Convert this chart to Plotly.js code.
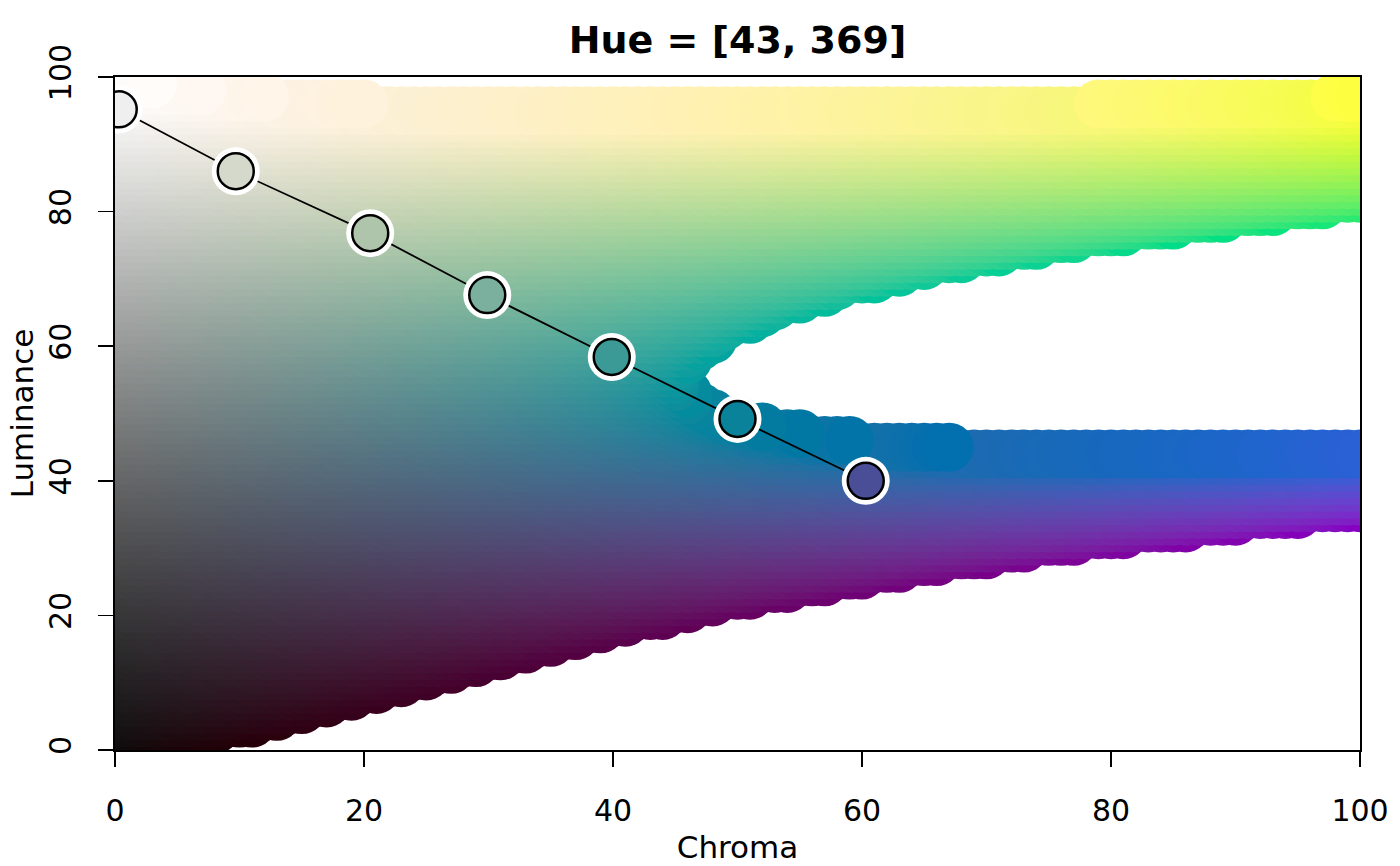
<!DOCTYPE html>
<html>
<head>
<meta charset="utf-8">
<script src="https://cdn.plot.ly/plotly-3.0.1.min.js"></script>
<style>html,body{margin:0;padding:0;background:#fff}#chart{width:1400px;height:866px}</style>
</head>
<body>
<div id="chart"></div>
<script>
// ---- data ----
const chartTitle = 'Hue = [43, 369]';
const xLabel = 'Chroma';
const yLabel = 'Luminance';
const xTicks = [0, 20, 40, 60, 80, 100];
const yTicks = [0, 20, 40, 60, 80, 100];

// background sampling grid of the luminance-chroma plane
const chromaGrid = [0,1,2,3,4,5,6,7,8,9,10,11,12,13,14,15,16,17,18,19,20,21,22,23,24,25,26,27,28,29,30,31,32,33,34,35,36,37,38,39,40,41,42,43,44,45,46,47,48,49,50,51,52,53,54,55,56,57,58,59,60,61,62,63,64,65,66,67,68,69,70,71,72,73,74,75,76,77,78,79,80,81,82,83,84,85,86,87,88,89,90,91,92,93,94,95,96,97,98,99,100];
const luminanceGrid = [0,1,2,3,4,5,6,7,8,9,10,11,12,13,14,15,16,17,18,19,20,21,22,23,24,25,26,27,28,29,30,31,32,33,34,35,36,37,38,39,40,41,42,43,44,45,46,47,48,49,50,51,52,53,54,55,56,57,58,59,60,61,62,63,64,65,66,67,68,69,70,71,72,73,74,75,76,77,78,79,80,81,82,83,84,85,86,87,88,89,90,91,92,93,94,95,96,97,98,99,100];
const hueAtOrigin = 370.5;      // hue at C = 0, L = 0
const huePerLuminance = -3.26;  // change of hue per luminance unit
const huePerChroma = 0.32;      // change of hue per chroma unit

// palette points
const paletteChroma = [0.3, 9.7, 20.5, 29.9, 39.9, 50.0, 60.3];
const paletteLuminance = [95.2, 86.0, 76.8, 67.6, 58.4, 49.2, 40.0];
const paletteColors = ['#EFEFEF', '#D5D9CB', '#AEC5AC', '#7BB09F', '#3B9A96', '#0A8299', '#4A4E96'];

// ---- polarLUV (HCL) -> sRGB hex, null when outside the sRGB gamut ----
function hclToHex(H, C, L) {
  if (L <= 0) return C === 0 ? '#000000' : null;
  const Xn = 95.047, Yn = 100.0, Zn = 108.883;
  const den = Xn + 15 * Yn + 3 * Zn;
  const un = 4 * Xn / den, vn = 9 * Yn / den;
  const h = H * Math.PI / 180;
  const u = C * Math.cos(h), v = C * Math.sin(h);
  const Y = Yn * (L > 7.999592 ? Math.pow((L + 16) / 116, 3) : L / 903.3);
  const up = u / (13 * L) + un;
  const vp = v / (13 * L) + vn;
  const X = 9.0 * Y * up / (4 * vp);
  const Z = -X / 3 - 5 * Y + 3 * Y / vp;
  const x = X / 100, y = Y / 100, z = Z / 100;
  const lin = [
    3.240479 * x - 1.537150 * y - 0.498535 * z,
    -0.969256 * x + 1.875992 * y + 0.041556 * z,
    0.055648 * x - 0.204043 * y + 1.057311 * z
  ];
  const eps = 1e-9;
  let hex = '#';
  for (const c of lin) {
    if (c < -eps || c > 1 + eps) return null;
    const cc = Math.min(1, Math.max(0, c));
    const g = cc > 0.00304 ? 1.055 * Math.pow(cc, 1 / 2.4) - 0.055 : 12.92 * cc;
    hex += Math.round(g * 255).toString(16).padStart(2, '0');
  }
  return hex;
}

const bgC = [], bgL = [], bgCol = [];
for (const L of luminanceGrid) {
  for (const C of chromaGrid) {
    const H = hueAtOrigin + huePerLuminance * L + huePerChroma * C;
    const col = hclToHex(H, C, L);
    if (col) { bgC.push(C); bgL.push(L); bgCol.push(col); }
  }
}

const traces = [
  { type: 'scatter', mode: 'markers', x: bgC, y: bgL, hoverinfo: 'skip',
    marker: { size: 49, color: bgCol, line: { width: 0 } } },
  { type: 'scatter', mode: 'lines', x: paletteChroma, y: paletteLuminance, hoverinfo: 'skip',
    line: { color: 'black', width: 1.8 } },
  { type: 'scatter', mode: 'markers', x: paletteChroma, y: paletteLuminance, hoverinfo: 'skip',
    marker: { size: 48, color: 'white', line: { width: 0 } } },
  { type: 'scatter', mode: 'markers', x: paletteChroma, y: paletteLuminance,
    marker: { size: 36, color: paletteColors, line: { color: 'black', width: 2.5 } } }
];

const axisCommon = {
  range: [0, 100], showgrid: false, zeroline: false,
  showline: true, mirror: true, linecolor: 'black', linewidth: 1.6,
  ticks: 'outside', ticklen: 15, tickwidth: 1.5, tickcolor: 'black',
  tickfont: { family: 'DejaVu Sans', size: 30, color: 'black' },
  automargin: false, fixedrange: true
};

const layout = {
  width: 1400, height: 866,
  margin: { l: 115, r: 40, t: 77, b: 116 },
  paper_bgcolor: 'white', plot_bgcolor: 'white', showlegend: false,
  font: { family: 'DejaVu Sans', color: 'black' },
  title: { text: '<b>' + chartTitle + '</b>', font: { family: 'DejaVu Sans', size: 38, color: 'black' },
           xref: 'paper', x: 0.5, xanchor: 'center', yref: 'container', y: 0.954, yanchor: 'middle' },
  xaxis: Object.assign({}, axisCommon, {
    tickvals: xTicks, ticktext: xTicks.map(String), ticklabelstandoff: 18,
    title: { text: xLabel, font: { family: 'DejaVu Sans', size: 31, color: 'black' }, standoff: 10 }
  }),
  yaxis: Object.assign({}, axisCommon, {
    tickvals: yTicks, ticktext: yTicks.map(String), tickangle: -90, ticklabelstandoff: 15,
    title: { text: yLabel, font: { family: 'DejaVu Sans', size: 31, color: 'black' }, standoff: 0 }
  })
};

Plotly.newPlot('chart', traces, layout, { staticPlot: true, displayModeBar: false });
</script>
</body>
</html>
